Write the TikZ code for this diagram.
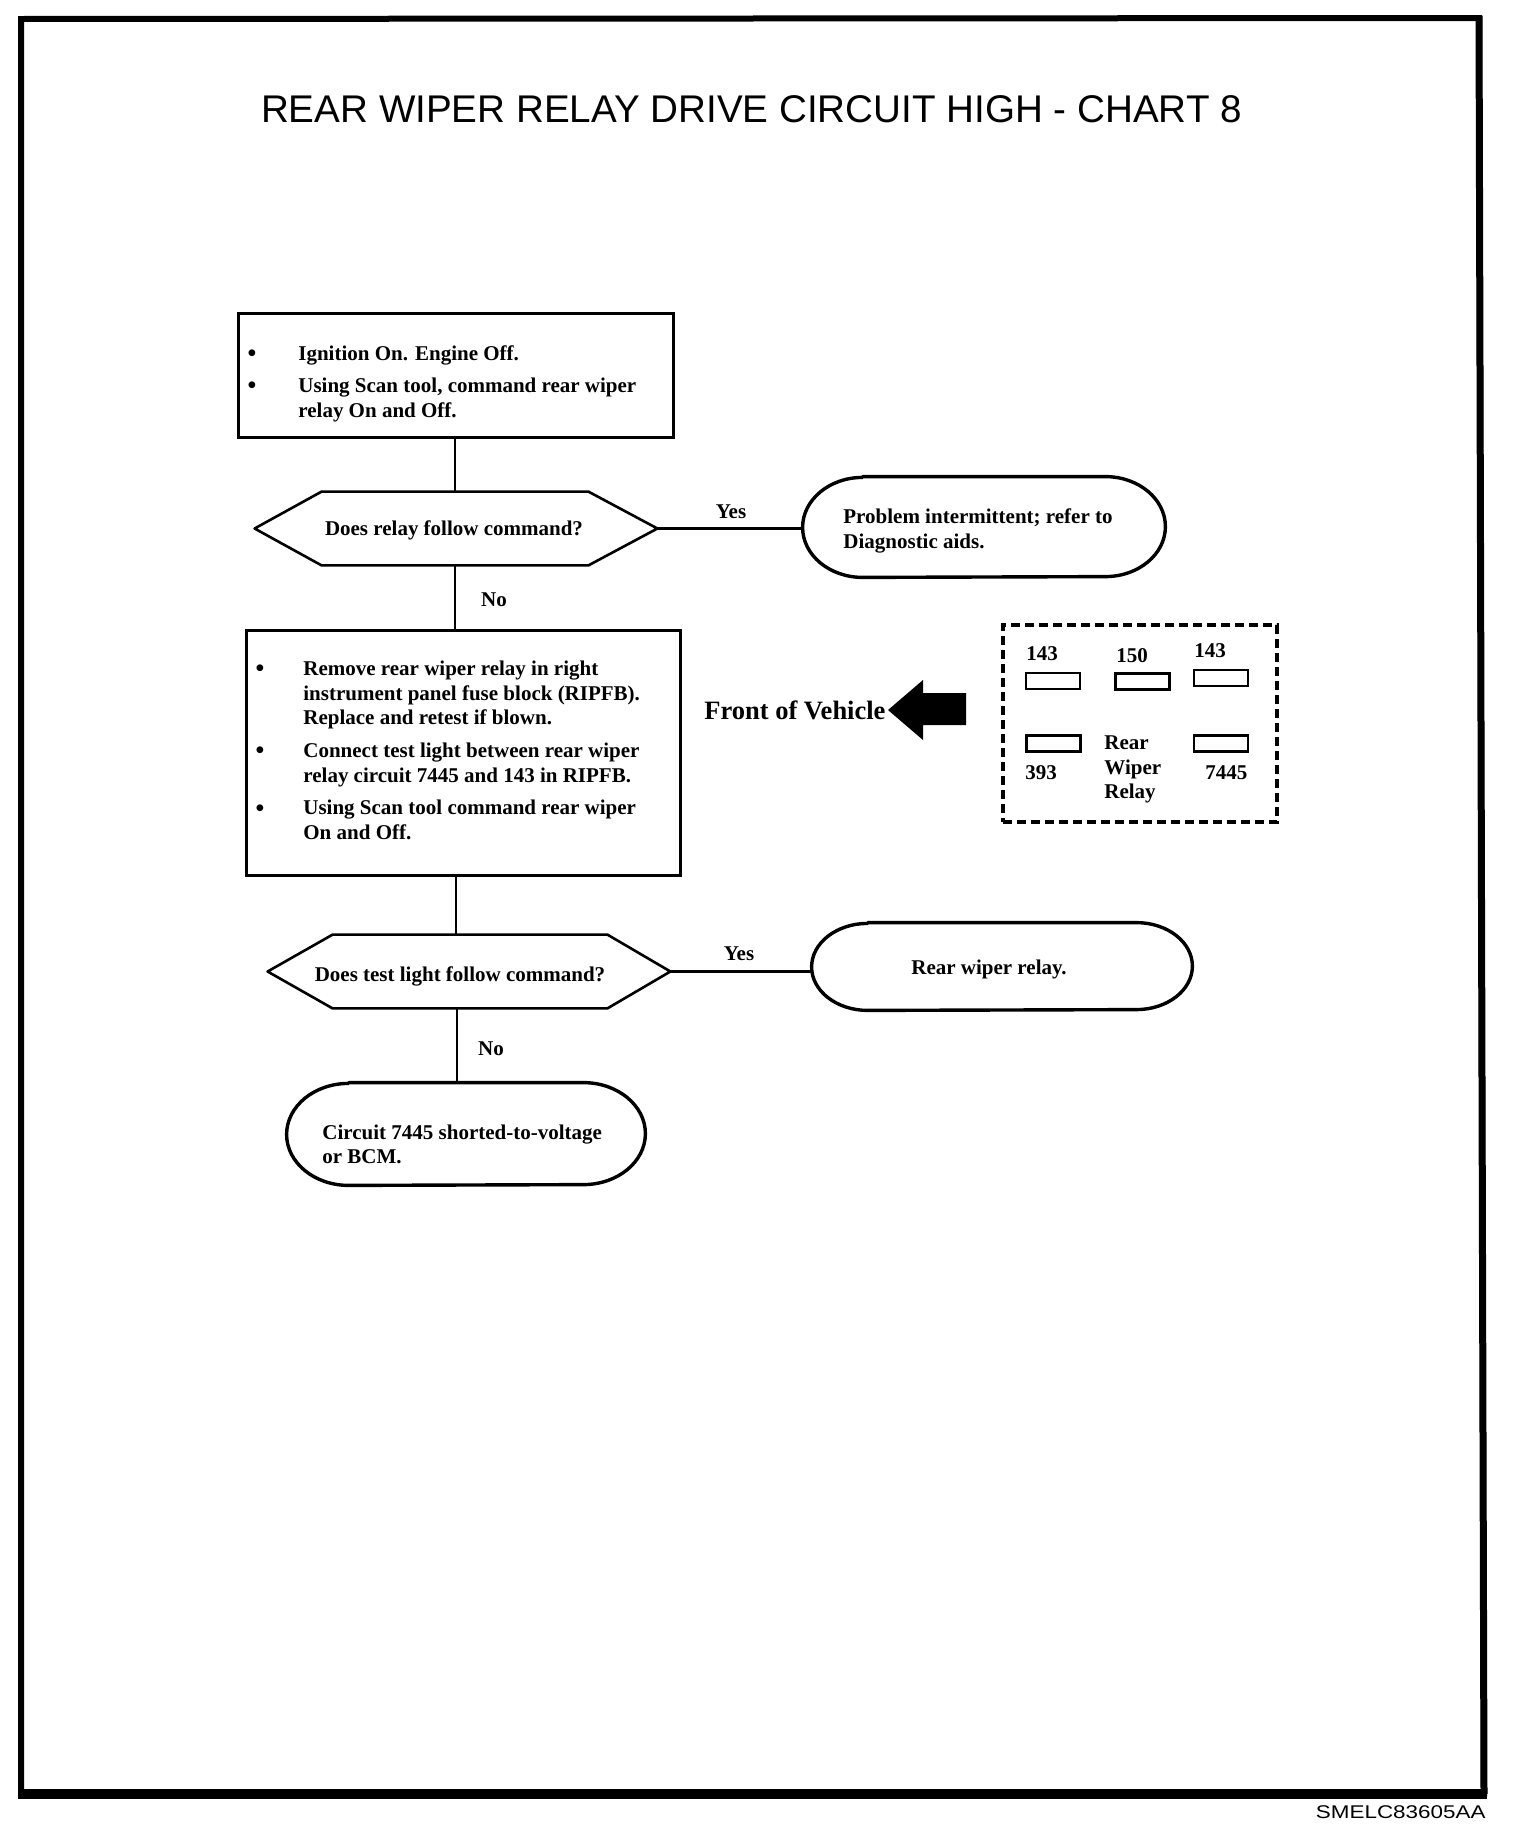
\documentclass[tikz,border=0pt]{standalone}
\usepackage{fontspec}
\setmainfont{Liberation Serif}
\newfontfamily\sansf{Liberation Sans}
\usetikzlibrary{calc}
\begin{document}
\begin{tikzpicture}[x=0.5pt,y=-0.5pt,
  txt/.style={font=\bfseries\fontsize{10.5}{12}\selectfont, inner sep=0pt, anchor=base west},
  ctxt/.style={font=\bfseries\fontsize{10.5}{12}\selectfont, inner sep=0pt, anchor=base},
  bul/.style={font=\bfseries\fontsize{12.5}{12}\selectfont, inner sep=0pt, anchor=base},
  boxnode/.style={draw, line width=1.5pt, inner sep=0pt},
  shapenode/.style={inner sep=0pt, draw=none},
  outline/.style={line width=1.7pt, line join=round},
  hexline/.style={line width=1.3pt, line join=round},
  conn/.style={line width=1.25pt},
  pin/.style={draw, line width=1.4pt, inner sep=0pt, minimum width=27pt, minimum height=8pt},
]
\fill[white] (0,0) rectangle (1520,1842);
\useasboundingbox (0,0) rectangle (1520,1842);
% frame
\draw[line width=3pt, line join=miter] (21,19) -- (1479,18) -- (1484,1794) -- (21,1794) -- cycle;
\draw[line width=5pt] (18,1794) -- (1487,1794);
\draw[line width=3.5pt] (1479,16) -- (1484,1794);
% title
\node[font=\sansf\fontsize{19.3}{22}\selectfont, inner sep=0pt, anchor=base] (title) at (751.5,122) {REAR WIPER RELAY DRIVE CIRCUIT HIGH - CHART 8};
% box 1
\node[boxnode, minimum width=217.5pt, minimum height=62pt] (box1) at (455.5,375) {};
\node[bul] (b1a) at (252,361) {•};
\node[bul] (b1b) at (252,393) {•};
\node[txt] (t1a) at (298,360) {Ignition On. Engine Off.};
\node[txt] (t1b) at (298,392) {Using Scan tool, command rear wiper};
\node[txt] (t1c) at (298,417) {relay On and Off.};
% hexagon 1
\node[shapenode, minimum width=201pt, minimum height=36.5pt] (hex1) at (456,528.5) {};
\draw[hexline] (hex1.west) -- ([xshift=33.5pt]hex1.north west) -- ([xshift=-34.5pt]hex1.north east) -- (hex1.east) -- ([xshift=-34.5pt]hex1.south east) -- ([xshift=33.5pt]hex1.south west) -- cycle;
\node[ctxt] (q1) at (454,535) {Does relay follow command?};
% stadium 1
\node[shapenode, minimum width=181pt, minimum height=50pt] (s1) at (984,527) {};
\draw[outline] ([xshift=30pt]s1.north west) -- ([xshift=-30pt]s1.north east) arc[start angle=90,end angle=-90,x radius=30pt,y radius=25pt] -- ([xshift=30pt]s1.south west) arc[start angle=270,end angle=90,x radius=30pt,y radius=25pt] -- cycle;
\node[txt] (s1a) at (843,523) {Problem intermittent; refer to};
\node[txt] (s1b) at (843,548) {Diagnostic aids.};
% box 2
\node[boxnode, minimum width=217pt, minimum height=122.5pt] (box2) at (463,752.5) {};
\node[bul] (b2a) at (260,676) {•};
\node[bul] (b2b) at (260,758) {•};
\node[bul] (b2c) at (260,816) {•};
\node[txt] (t2a) at (303,675) {Remove rear wiper relay in right};
\node[txt] (t2b) at (303,700) {instrument panel fuse block (RIPFB).};
\node[txt] (t2c) at (303,724) {Replace and retest if blown.};
\node[txt] (t2d) at (303,757) {Connect test light between rear wiper};
\node[txt] (t2e) at (303,782) {relay circuit 7445 and 143 in RIPFB.};
\node[txt] (t2f) at (303,814) {Using Scan tool command rear wiper};
\node[txt] (t2g) at (303,839) {On and Off.};
% front of vehicle + arrow
\node[font=\bfseries\fontsize{13.25}{15}\selectfont, inner sep=0pt, anchor=base west] (fov) at (704,719) {Front of Vehicle};
\fill (888,710) -- (923,680) -- (923,693) -- (966,693) -- (966,725) -- (923,725) -- (923,740) -- cycle;
% relay box
\node[draw, line width=2pt, dash pattern=on 4.5pt off 2.5pt, inner sep=0pt, minimum width=137pt, minimum height=98.5pt] (relay) at (1140,723.5) {};
\node[pin] (p1) at (1053,681) {};
\node[pin] (p2) at (1142.5,681.5) {};
\node[pin] (p3) at (1221,678) {};
\node[pin] (p4) at (1053.5,743.5) {};
\node[pin] (p5) at (1221,743.5) {};
\node[txt] (l1) at (1026,660) {143};
\node[txt] (l2) at (1116,662) {150};
\node[txt] (l3) at (1194,657) {143};
\node[txt] (l4) at (1025,779) {393};
\node[txt] (l5) at (1205,779) {7445};
\node[txt] (l6) at (1104,749) {Rear};
\node[txt] (l7) at (1104,774) {Wiper};
\node[txt] (l8) at (1104,798) {Relay};
% hexagon 2
\node[shapenode, minimum width=201pt, minimum height=36.5pt] (hex2) at (469,971.5) {};
\draw[hexline] (hex2.west) -- ([xshift=32.5pt]hex2.north west) -- ([xshift=-31.5pt]hex2.north east) -- (hex2.east) -- ([xshift=-31.5pt]hex2.south east) -- ([xshift=32.5pt]hex2.south west) -- cycle;
\node[ctxt] (q2) at (460,981) {Does test light follow command?};
% stadium 2
\node[shapenode, minimum width=190pt, minimum height=43.5pt] (s2) at (1002,966.5) {};
\draw[outline] ([xshift=28pt]s2.north west) -- ([xshift=-28pt]s2.north east) arc[start angle=90,end angle=-90,x radius=28pt,y radius=21.75pt] -- ([xshift=28pt]s2.south west) arc[start angle=270,end angle=90,x radius=28pt,y radius=21.75pt] -- cycle;
\node[ctxt] (s2a) at (989,974) {Rear wiper relay.};
% stadium 3
\node[shapenode, minimum width=179pt, minimum height=51pt] (s3) at (466,1134) {};
\draw[outline] ([xshift=31pt]s3.north west) -- ([xshift=-31pt]s3.north east) arc[start angle=90,end angle=-90,x radius=31pt,y radius=25.5pt] -- ([xshift=31pt]s3.south west) arc[start angle=270,end angle=90,x radius=31pt,y radius=25.5pt] -- cycle;
\node[txt] (s3a) at (322,1139) {Circuit 7445 shorted-to-voltage};
\node[txt] (s3b) at (322,1163) {or BCM.};
% connectors
\coordinate (spa) at (455,0);
\coordinate (spb) at (456,0);
\coordinate (spc) at (457,0);
\draw[conn] (box1.south -| spa) -- (hex1.north -| spa);
\draw[conn] (hex1.south -| spa) -- (box2.north -| spa);
\draw[conn] (box2.south -| spb) -- (hex2.north -| spb);
\draw[conn] (hex2.south -| spc) -- (s3.north -| spc);
\draw[conn] (hex1.east) -- (hex1.east -| s1.west);
\draw[conn] (hex2.east) -- (hex2.east -| s2.west);
% labels
\node[ctxt] (yes1) at (731,518) {Yes};
\node[ctxt] (no1) at (494,606) {No};
\node[ctxt] (yes2) at (739,960) {Yes};
\node[ctxt] (no2) at (491,1055) {No};
% code
\node[font=\sansf\fontsize{9.2}{11}\selectfont, inner sep=0pt, anchor=base east] (code) at (1486,1818) {\scalebox{1.22}[1]{SMELC83605AA}};
\end{tikzpicture}
\end{document}
